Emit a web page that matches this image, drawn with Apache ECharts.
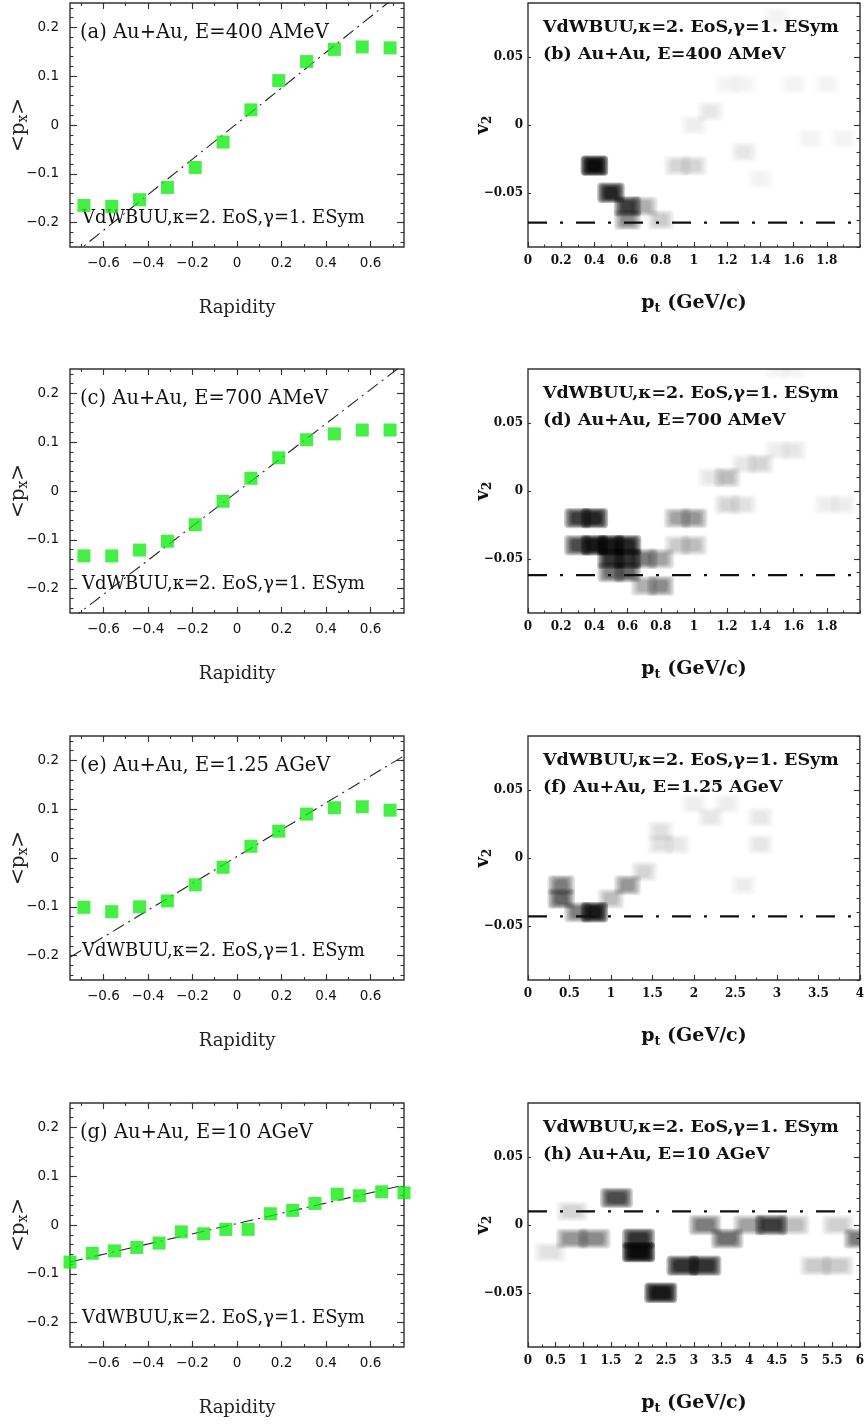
<!DOCTYPE html>
<html>
<head>
<meta charset="utf-8">
<script src="https://cdn.jsdelivr.net/npm/echarts@6/dist/echarts.min.js"></script>
<style>
html, body { margin: 0; padding: 0; background: #fff; }
#chart { width: 867px; height: 1426px; }
</style>
</head>
<body>
<div id="chart"></div>
<script>
// ---- data ----
const rapidity125 = [-0.6875, -0.5625, -0.4375, -0.3125, -0.1875, -0.0625, 0.0625, 0.1875, 0.3125, 0.4375, 0.5625, 0.6875];
const rapidity10 = [-0.75, -0.65, -0.55, -0.45, -0.35, -0.25, -0.15, -0.05, 0.05, 0.15, 0.25, 0.35, 0.45, 0.55, 0.65, 0.75];
const pxA = [-0.165, -0.167, -0.153, -0.128, -0.087, -0.035, 0.031, 0.091, 0.130, 0.155, 0.160, 0.158];
const pxC = [-0.133, -0.133, -0.121, -0.103, -0.069, -0.021, 0.026, 0.068, 0.105, 0.117, 0.125, 0.125];
const pxE = [-0.101, -0.110, -0.100, -0.088, -0.055, -0.019, 0.024, 0.055, 0.090, 0.103, 0.105, 0.098];
const pxG = [-0.076, -0.058, -0.053, -0.046, -0.037, -0.014, -0.018, -0.009, -0.009, 0.023, 0.030, 0.044, 0.063, 0.060, 0.068, 0.066];
const fitSlope = [0.365, 0.35, 0.275, 0.105];
const fitIntercept = [0.003, -0.002, 0.003, 0.003];

// v2(pt) cells: [pt, v2, shade]
const cellsB = [
  [0.4, -0.03, 0.95], [0.5, -0.05, 0.85], [0.6, -0.06, 0.75], [0.7, -0.06, 0.3],
  [0.6, -0.07, 0.45], [0.8, -0.07, 0.2], [0.9, -0.03, 0.15], [1.0, -0.03, 0.15],
  [1.0, 0.0, 0.07], [1.1, 0.01, 0.1], [1.2, 0.03, 0.05], [1.3, 0.03, 0.05],
  [1.3, -0.02, 0.08], [1.4, -0.04, 0.05], [1.5, 0.08, 0.05], [1.6, 0.03, 0.04],
  [1.8, 0.03, 0.04], [1.7, -0.01, 0.04], [1.9, -0.01, 0.04]
];
const cellsD = [
  [0.3, -0.02, 0.75], [0.4, -0.02, 0.85],
  [0.3, -0.04, 0.7], [0.4, -0.04, 0.9], [0.5, -0.04, 0.9], [0.6, -0.04, 0.85],
  [0.5, -0.05, 0.8], [0.6, -0.05, 0.8], [0.7, -0.05, 0.5], [0.8, -0.05, 0.35],
  [0.5, -0.06, 0.55], [0.6, -0.06, 0.6], [0.7, -0.07, 0.3], [0.8, -0.07, 0.45],
  [0.9, -0.02, 0.35], [1.0, -0.02, 0.4], [0.9, -0.04, 0.2], [1.0, -0.04, 0.25],
  [1.1, 0.01, 0.1], [1.2, 0.01, 0.25], [1.2, -0.01, 0.15], [1.3, -0.01, 0.12],
  [1.3, 0.02, 0.1], [1.4, 0.02, 0.15], [1.5, 0.03, 0.06], [1.6, 0.03, 0.08],
  [1.8, -0.01, 0.07], [1.9, -0.01, 0.06], [1.5, 0.09, 0.05], [1.6, 0.09, 0.05]
];
const cellsF = [
  [0.4, -0.02, 0.5], [0.4, -0.03, 0.6], [0.6, -0.04, 0.5], [0.8, -0.04, 0.9],
  [1.0, -0.03, 0.25], [1.2, -0.02, 0.4], [1.4, -0.01, 0.15],
  [1.6, 0.02, 0.12], [1.6, 0.01, 0.12], [1.8, 0.01, 0.08],
  [2.0, 0.04, 0.07], [2.2, 0.03, 0.08], [2.4, 0.04, 0.06],
  [2.8, 0.03, 0.08], [2.8, 0.01, 0.08], [2.6, -0.02, 0.07]
];
const cellsH = [
  [0.4, -0.02, 0.12], [0.8, 0.01, 0.15], [0.8, -0.01, 0.4], [1.2, -0.01, 0.45],
  [1.6, 0.02, 0.7], [2.0, -0.01, 0.8], [2.0, -0.02, 0.95], [2.4, -0.05, 0.9],
  [2.8, -0.03, 0.8], [3.2, -0.03, 0.8], [3.2, 0.0, 0.5], [3.6, -0.01, 0.55],
  [4.0, 0.0, 0.35], [4.4, 0.0, 0.75], [4.8, 0.0, 0.25],
  [5.2, -0.03, 0.2], [5.6, -0.03, 0.2], [5.6, 0.0, 0.18], [6.0, -0.01, 0.5]
];
const cellSize = [[0.1, 0.01], [0.1, 0.01], [0.2, 0.01], [0.4, 0.01]];
const ptMax = [2, 2, 4, 6];
const v2Mean = [-0.072, -0.062, -0.043, 0.01];

const leftLabels = ['(a) Au+Au, E=400 AMeV', '(c) Au+Au, E=700 AMeV', '(e) Au+Au, E=1.25 AGeV', '(g) Au+Au, E=10 AGeV'];
const rightLabels = ['(b) Au+Au, E=400 AMeV', '(d) Au+Au, E=700 AMeV', '(f) Au+Au, E=1.25 AGeV', '(h) Au+Au, E=10 AGeV'];
const modelLabel = 'VdWBUU,\u03ba=2. EoS,\u03b3=1. ESym';

const rapidityTicks = [-0.6, -0.4, -0.2, 0, 0.2, 0.4, 0.6];
const pxTicks = [-0.2, -0.1, 0, 0.1, 0.2];
const v2Ticks = [-0.05, 0, 0.05];
const ptTicks = [
  [0, 0.2, 0.4, 0.6, 0.8, 1, 1.2, 1.4, 1.6, 1.8],
  [0, 0.2, 0.4, 0.6, 0.8, 1, 1.2, 1.4, 1.6, 1.8],
  [0, 0.5, 1, 1.5, 2, 2.5, 3, 3.5, 4],
  [0, 0.5, 1, 1.5, 2, 2.5, 3, 3.5, 4, 4.5, 5, 5.5, 6]
];

// ---- layout ----
const rowTop = [3, 369, 736, 1103];
const panelH = 244;
const leftX = 70, leftW = 334;
const rightX = 528, rightW = 332;
const SERIF = 'DejaVu Serif';

function steps(a, b, step) {
  const out = [];
  const n = Math.round((b - a) / step);
  for (let i = 0; i <= n; i++) out.push(+(a + i * step).toFixed(4));
  return out;
}
function fmt(v) {
  const s = String(Math.abs(+v.toFixed(3)));
  return v < -1e-9 ? '\u2212' + s : s;
}

const grids = [], xAxes = [], yAxes = [], series = [], graphics = [];

function tickAxis(grid, min, max, position, values, len, extra) {
  return Object.assign({
    type: 'value', gridIndex: grid, position: position, min: min, max: max,
    axisLine: { show: false, onZero: false },
    axisTick: { show: len > 0, inside: true, length: len, customValues: values, lineStyle: { color: '#333', width: 1.1 } },
    axisLabel: { show: false },
    splitLine: { show: false }
  }, extra || {});
}

// p: {left, top, width, height, x:{min,max,major,minor}, y:{...}, len:{bottom,top,left,right: [major, minor]}, xExtra, yExtra}
function addPanel(p) {
  const g = grids.length;
  const rect = { left: p.left, top: p.top, width: p.width, height: p.height };
  grids.push(Object.assign({ show: true, borderColor: '#333', borderWidth: 1.4, backgroundColor: 'transparent' }, rect));
  grids.push(Object.assign({}, rect));
  const xi = xAxes.length, yi = yAxes.length;
  xAxes.push(tickAxis(g, p.x.min, p.x.max, 'bottom', p.x.major, p.len.bottom[0], p.xExtra));
  xAxes.push(tickAxis(g, p.x.min, p.x.max, 'top', p.x.major, p.len.top[0]));
  xAxes.push(tickAxis(g + 1, p.x.min, p.x.max, 'bottom', p.x.minor, p.len.bottom[1]));
  xAxes.push(tickAxis(g + 1, p.x.min, p.x.max, 'top', p.x.minor, p.len.top[1]));
  yAxes.push(tickAxis(g, p.y.min, p.y.max, 'left', p.y.major, p.len.left[0], p.yExtra));
  yAxes.push(tickAxis(g, p.y.min, p.y.max, 'right', p.y.major, p.len.right[0]));
  yAxes.push(tickAxis(g + 1, p.y.min, p.y.max, 'left', p.y.minor, p.len.left[1]));
  yAxes.push(tickAxis(g + 1, p.y.min, p.y.max, 'right', p.y.minor, p.len.right[1]));
  return { xi: xi, yi: yi };
}

function addText(x, y, text, size, weight) {
  graphics.push({
    type: 'text', x: x, y: y, silent: true,
    style: { text: text, fontFamily: SERIF, fontSize: size, fontWeight: weight || 'normal', fill: '#111', verticalAlign: 'middle' }
  });
}

// ---- left column: <px> vs rapidity ----
const pxSets = [pxA, pxC, pxE, pxG];
pxSets.forEach(function (px, r) {
  const xs = r === 3 ? rapidity10 : rapidity125;
  const ax = addPanel({
    left: leftX, top: rowTop[r], width: leftW, height: panelH,
    x: { min: -0.75, max: 0.75, major: rapidityTicks, minor: steps(-0.7, 0.7, 0.1) },
    y: { min: -0.25, max: 0.25, major: pxTicks, minor: steps(-0.24, 0.24, 0.02) },
    len: { bottom: [6, 3], top: [6, 3], left: [7, 3.5], right: [7, 3.5] },
    xExtra: {
      name: 'Rapidity', nameLocation: 'middle', nameGap: 52, nameMoveOverlap: false,
      nameTextStyle: { fontFamily: SERIF, fontSize: 18, color: '#222' },
      axisLabel: { show: true, customValues: rapidityTicks, formatter: fmt, margin: 9, fontFamily: 'DejaVu Sans', fontSize: 13.5, color: '#111' }
    },
    yExtra: {
      name: '<p{s|x}>', nameLocation: 'middle', nameGap: 40, nameRotate: 90, nameMoveOverlap: false,
      nameTextStyle: { fontFamily: SERIF, fontSize: 20, color: '#222', rich: { s: { fontFamily: SERIF, fontSize: 14, color: '#222', padding: [9, 0, 0, 0] } } },
      axisLabel: { show: true, customValues: pxTicks, formatter: fmt, margin: 11, fontFamily: 'DejaVu Sans', fontSize: 13.5, color: '#111' }
    }
  });
  const a = fitSlope[r], b = fitIntercept[r];
  series.push({
    type: 'line', xAxisIndex: ax.xi, yAxisIndex: ax.yi, clip: true, z: 2,
    showSymbol: false, silent: true,
    data: [[-0.75, a * -0.75 + b], [0.75, a * 0.75 + b]],
    lineStyle: { color: '#222', width: 1.1, type: [13, 5, 2, 5] }
  });
  series.push({
    type: 'scatter', xAxisIndex: ax.xi, yAxisIndex: ax.yi, z: 3,
    symbol: 'rect', symbolSize: 13,
    itemStyle: { color: '#14ec14' },
    data: xs.map(function (x, i) { return [x, px[i]]; })
  });
  addText(leftX + 10, rowTop[r] + 30, leftLabels[r], 19.5);
  addText(leftX + 12, rowTop[r] + panelH - 29, modelLabel, 18);
});

// ---- right column: v2 vs pt ----
const cellSets = [cellsB, cellsD, cellsF, cellsH];
const blurScales = [1.5, 1.36, 1.22, 1.08, 0.94, 0.8];
cellSets.forEach(function (cells, r) {
  const xmax = ptMax[r];
  const minorStep = xmax === 2 ? 0.1 : 0.25;
  const ax = addPanel({
    left: rightX, top: rowTop[r], width: rightW, height: panelH,
    x: { min: 0, max: xmax, major: ptTicks[r], minor: steps(0, xmax, minorStep) },
    y: { min: -0.09, max: 0.09, major: v2Ticks, minor: steps(-0.09, 0.09, 0.01) },
    len: { bottom: [5, 2.5], top: [0, 0], left: [3, 0], right: [6, 3.5] },
    xExtra: {
      name: 'p{s|t} (GeV/c)', nameLocation: 'middle', nameGap: 45, nameMoveOverlap: false,
      nameTextStyle: { fontFamily: SERIF, fontSize: 19, fontWeight: 'bold', color: '#111', rich: { s: { fontFamily: SERIF, fontSize: 13, fontWeight: 'bold', color: '#111', padding: [10, 0, 0, 0] } } },
      axisLabel: { show: true, customValues: ptTicks[r], formatter: fmt, margin: 8, fontFamily: SERIF, fontWeight: 'bold', fontSize: 12, color: '#111' }
    },
    yExtra: {
      name: 'v{s|2}', nameLocation: 'middle', nameGap: 34, nameRotate: 90, nameMoveOverlap: false,
      nameTextStyle: { fontFamily: SERIF, fontSize: 18, fontWeight: 'bold', color: '#111', rich: { s: { fontFamily: SERIF, fontSize: 12, fontWeight: 'bold', color: '#111', padding: [9, 0, 0, 0] } } },
      axisLabel: { show: true, customValues: v2Ticks, formatter: fmt, margin: 5, fontFamily: SERIF, fontWeight: 'bold', fontSize: 12, color: '#111' }
    }
  });
  const size = cellSize[r];
  series.push({
    type: 'custom', xAxisIndex: ax.xi, yAxisIndex: ax.yi, clip: true, z: 1, silent: true,
    data: cells,
    renderItem: function (params, api) {
      const x = api.value(0), y = api.value(1), s = api.value(2);
      const p0 = api.coord([x - size[0] / 2, y + size[1] / 2]);
      const p1 = api.coord([x + size[0] / 2, y - size[1] / 2]);
      const w = p1[0] - p0[0], h = p1[1] - p0[1];
      const cx = p0[0] + w / 2, cy = p0[1] + h / 2;
      // stacked translucent rects fake a gaussian blur of the cell
      const a = 1 - Math.pow(1 - Math.min(s, 0.97), 1 / blurScales.length);
      const c = 'rgba(0,0,0,' + a.toFixed(3) + ')';
      return {
        type: 'group',
        children: blurScales.map(function (k) {
          const bw = w + (k - 1) * h * 1.6;
          const bh = h * k;
          return {
            type: 'rect',
            shape: { x: cx - bw / 2, y: cy - bh / 2, width: bw, height: bh, r: Math.min(bh / 2, 4) },
            style: { fill: c }
          };
        })
      };
    }
  });
  series.push({
    type: 'line', xAxisIndex: ax.xi, yAxisIndex: ax.yi, clip: true, z: 2,
    showSymbol: false, silent: true,
    data: [[0, v2Mean[r]], [xmax, v2Mean[r]]],
    lineStyle: { color: '#111', width: 2.2, type: [19, 13, 3, 13] }
  });
  addText(rightX + 15, rowTop[r] + 24, modelLabel, 17.5, 'bold');
  addText(rightX + 15, rowTop[r] + 51, rightLabels[r], 17.5, 'bold');
});

const chart = echarts.init(document.getElementById('chart'));
chart.setOption({
  animation: false,
  backgroundColor: '#fff',
  grid: grids,
  xAxis: xAxes,
  yAxis: yAxes,
  series: series,
  graphic: graphics
});
window.addEventListener('resize', function () {
  chart.resize();
});
</script>
</body>
</html>
